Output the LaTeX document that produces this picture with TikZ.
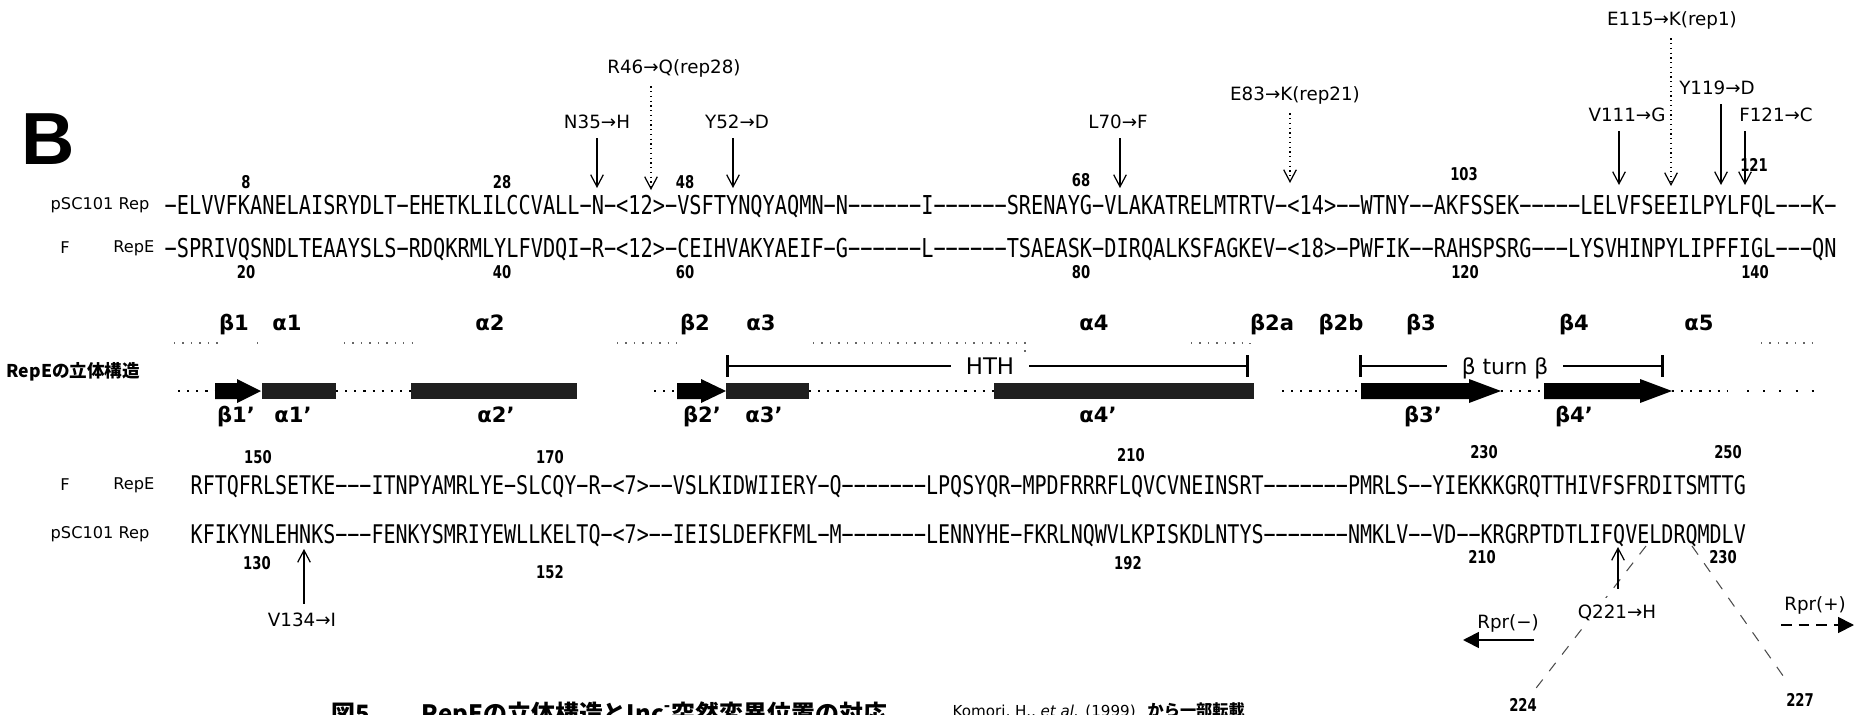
\documentclass[tikz,border=0pt]{standalone}
\usepackage{fontspec}
\setmainfont{DejaVu Sans}
\newfontfamily\seqfont[FakeStretch=0.779]{DejaVu Sans Mono}
\newfontfamily\numfont[FakeStretch=0.75]{DejaVu Sans}
\newfontfamily\headfont{Liberation Sans}
\newfontfamily\jpfont{Noto Sans CJK JP}
\usetikzlibrary{arrows.meta}

\begin{document}
\begin{tikzpicture}[
x=0.01cm,y=-0.01cm,
every node/.style={inner sep=0pt},
seqrow/.style={anchor=base west,font=\fontsize{7.4}{8}\seqfont},
seqrowb/.style={anchor=base west,font=\fontsize{7.31}{8}\seqfont},
tag/.style={font=\fontsize{4.6}{5}\selectfont},
resnum/.style={font=\fontsize{5}{6}\numfont\bfseries},
mut/.style={font=\fontsize{5.2}{6}\selectfont},
sse/.style={anchor=base,font=\fontsize{6}{7}\bfseries},
hit/.style={-{Straight Barb[length=3.4pt,width=3.6pt]},line width=0.35pt,shorten <=2.5pt},
hitdot/.style={hit,densely dotted},
coil/.style={dotted,line width=0.6pt},
faint/.style={dotted,black!60,line width=0.4pt},
helix/.style={fill=black!88},
span/.style={{Bar[width=6pt]}-,line width=0.8pt},
guide/.style={dashed,black!70,line width=0.3pt,shorten >=3pt}
]
\useasboundingbox[fill=white] (0,0) rectangle (1854,715);

\node[font=\fontsize{21}{24}\headfont\bfseries] (B) at (48,139) {B};

\node[tag,anchor=east] (l1) at (150,205) {pSC101 Rep};
\node[tag] (l2a) at (65,248) {F};
\node[tag,anchor=east] (l2b) at (155,248) {RepE};
\node[tag] (l3a) at (65,485) {F};
\node[tag,anchor=east] (l3b) at (155,485) {RepE};
\node[tag,anchor=east] (l4) at (150,534) {pSC101 Rep};

\node[seqrow] (s1) at (164,214.5) {−ELVVFKANELAISRYDLT−EHETKLILCCVALL−N−<12>−VSFTYNQYAQMN−N−−−−−−I−−−−−−SRENAYG−VLAKATRELMTRTV−<14>−−WTNY−−AKFSSEK−−−−−LELVFSEEILPYLFQL−−−K−};
\node[seqrow] (s2) at (164,257.5) {−SPRIVQSNDLTEAAYSLS−RDQKRMLYLFVDQI−R−<12>−CEIHVAKYAEIF−G−−−−−−L−−−−−−TSAEASK−DIRQALKSFAGKEV−<18>−PWFIK−−RAHSPSRG−−−LYSVHINPYLIPFFIGL−−−QN};
\node[seqrowb] (s3) at (190,494.5) {RFTQFRLSETKE−−−ITNPYAMRLYE−SLCQY−R−<7>−−VSLKIDWIIERY−Q−−−−−−−LPQSYQR−MPDFRRRFLQVCVNEINSRT−−−−−−−PMRLS−−YIEKKKGRQTTHIVFSFRDITSMTTG};
\node[seqrowb] (s4) at (190,543.5) {KFIKYNLEHNKS−−−FENKYSMRIYEWLLKELTQ−<7>−−IEISLDEFKFML−M−−−−−−−LENNYHE−FKRLNQWVLKPISKDLNTYS−−−−−−−NMKLV−−VD−−KRGRPTDTLIFQVELDRQMDLV};

\node[resnum] (a8) at (246,182) {8};
\node[resnum] (a28) at (502,182) {28};
\node[resnum] (a48) at (685,182) {48};
\node[resnum] (a68) at (1081,180) {68};
\node[resnum] (a103) at (1464,174) {103};
\node[resnum] (a121) at (1754,165) {121};
\node[resnum] (b20) at (246,272) {20};
\node[resnum] (b40) at (502,272) {40};
\node[resnum] (b60) at (685,272) {60};
\node[resnum] (b80) at (1081,272) {80};
\node[resnum] (b120) at (1465,272) {120};
\node[resnum] (b140) at (1755,272) {140};
\node[resnum] (c150) at (258,457) {150};
\node[resnum] (c170) at (550,457) {170};
\node[resnum] (c210) at (1131,455) {210};
\node[resnum] (c230) at (1484,452) {230};
\node[resnum] (c250) at (1728,452) {250};
\node[resnum] (d130) at (257,563) {130};
\node[resnum] (d152) at (550,572) {152};
\node[resnum] (d192) at (1128,563) {192};
\node[resnum] (d210) at (1482,557) {210};
\node[resnum] (d230) at (1723,557) {230};

\node[mut] (m46) at (674,68) {R46→Q(rep28)};
\coordinate (r46) at (651,190);
\draw[hitdot] (m46.south -| r46) -- (r46);
\node[mut] (m35) at (597,122) {N35→H};
\coordinate (r35) at (597,188);
\draw[hit] (m35.south -| r35) -- (r35);
\node[mut] (m52) at (737,122) {Y52→D};
\coordinate (r52) at (733,188);
\draw[hit] (m52.south -| r52) -- (r52);
\node[mut] (m70) at (1118,122) {L70→F};
\coordinate (r70) at (1120,188);
\draw[hit] (m70.south -| r70) -- (r70);
\node[mut] (m83) at (1295,95) {E83→K(rep21)};
\coordinate (r83) at (1290,183);
\draw[hitdot] (m83.south -| r83) -- (r83);
\node[mut] (m115) at (1672,20) {E115→K(rep1)};
\coordinate (r115) at (1671,186);
\draw[hitdot] (m115.south -| r115) -- (r115);
\node[mut] (m111) at (1627,115) {V111→G};
\coordinate (r111) at (1619,185);
\draw[hit] (m111.south -| r111) -- (r111);
\node[mut] (m119) at (1717,88) {Y119→D};
\coordinate (r119) at (1721,185);
\draw[hit] (m119.south -| r119) -- (r119);
\node[mut] (m121) at (1776,115) {F121→C};
\coordinate (r121) at (1745,185);
\draw[hit] (m121.south -| r121) -- (r121);

\node[mut] (m134) at (302,620) {V134→I};
\coordinate (r134) at (304,549);
\draw[hit] (m134.north -| r134) -- (r134);

\node[resnum] (e224) at (1523,705) {224};
\node[resnum] (e227) at (1800,700) {227};
\coordinate (k1) at (1646,546);
\coordinate (k2) at (1692,546);
\draw[guide] (k1) -- (e224);
\draw[guide] (k2) -- (e227);
\node[mut,fill=white,inner sep=2pt] (m221) at (1617,613) {Q221→H};
\coordinate (r221) at (1618,547);
\draw[hit] (m221.north -| r221) -- (r221);

\node[mut] (rm) at (1508,623) {Rpr(−)};
\coordinate (rm1) at (1534,640);
\coordinate (rm2) at (1463,640);
\draw[line width=0.5pt,-{Triangle[length=4.5pt,width=4.5pt]}] (rm1) -- (rm2);
\node[mut] (rp) at (1815,605) {Rpr(+)};
\coordinate (rp1) at (1781,625);
\coordinate (rp2) at (1854,625);
\draw[densely dashed,line width=0.5pt,-{Triangle[length=4.5pt,width=4.5pt]}] (rp1) -- (rp2);

\node[sse] (t1) at (234,330) {β1};
\node[sse] (t2) at (287,330) {α1};
\node[sse] (t3) at (490,330) {α2};
\node[sse] (t4) at (695,330) {β2};
\node[sse] (t5) at (761,330) {α3};
\node[sse] (t6) at (1094,330) {α4};
\node[sse] (t7) at (1272,330) {β2a};
\node[sse] (t8) at (1341,330) {β2b};
\node[sse] (t9) at (1421,330) {β3};
\node[sse] (t10) at (1574,330) {β4};
\node[sse] (t11) at (1699,330) {α5};

\draw[faint] (174,343) -- (221,343);
\draw[faint] (257,343) -- (263,343);
\draw[faint] (344,343) -- (415,343);
\draw[faint] (617,343) -- (679,343);
\draw[faint] (813,343) -- (1025,343) -- (1025,352);
\draw[faint] (1191,343) -- (1250,343) -- (1250,350);
\draw[faint] (1761,343) -- (1815,343);

\coordinate (h1) at (726,366);
\coordinate (h2) at (1249,366);
\node[font=\fontsize{6.5}{7}\selectfont,inner sep=4pt] (hth) at (990,366) {HTH};
\draw[span] (h1) -- (h1 -| hth.west);
\draw[span] (h2) -- (h2 -| hth.east);
\coordinate (h3) at (1359,366);
\coordinate (h4) at (1664,366);
\node[font=\fontsize{6.2}{7}\selectfont,inner sep=4pt,anchor=base] (bt) at (1505,374) {β turn β};
\draw[span] (h3) -- (h3 -| bt.west);
\draw[span] (h4) -- (h4 -| bt.east);

\node[font=\fontsize{5}{6}\jpfont\bfseries,anchor=west] (st) at (6,372) {RepEの立体構造};

\draw[coil] (178,391) -- (215,391);
\fill (215,383) -- (237,383) -- (237,379) -- (261,391) -- (237,403) -- (237,399) -- (215,399) -- cycle;
\fill[helix] (262,383) rectangle (336,399);
\draw[coil] (336,391) -- (411,391);
\fill[helix] (411,383) rectangle (577,399);
\draw[coil] (654,391) -- (677,391);
\fill (677,383) -- (701,383) -- (701,379) -- (726,391) -- (701,403) -- (701,399) -- (677,399) -- cycle;
\fill[helix] (726,383) rectangle (809,399);
\draw[coil] (809,391) -- (994,391);
\fill[helix] (994,383) rectangle (1254,399);
\draw[coil] (1282,391) -- (1361,391);
\fill (1361,383) -- (1469,383) -- (1469,379) -- (1501,391) -- (1469,403) -- (1469,399) -- (1361,399) -- cycle;
\draw[coil] (1501,391) -- (1544,391);
\fill (1544,383) -- (1640,383) -- (1640,379) -- (1672,391) -- (1640,403) -- (1640,399) -- (1544,399) -- cycle;
\draw[coil] (1672,391) -- (1727,391);
\draw[coil,loosely dotted] (1747,391) -- (1815,391);

\node[sse] (u1) at (236,422) {β1'};
\node[sse] (u2) at (293,422) {α1'};
\node[sse] (u3) at (496,422) {α2'};
\node[sse] (u4) at (702,422) {β2'};
\node[sse] (u5) at (764,422) {α3'};
\node[sse] (u6) at (1098,422) {α4'};
\node[sse] (u7) at (1423,422) {β3'};
\node[sse] (u8) at (1574,422) {β4'};

\node[font=\fontsize{6.8}{8}\jpfont\bfseries,anchor=base west] (cap1) at (331,722) {図5};
\node[font=\fontsize{6.8}{8}\jpfont\bfseries,anchor=base west] (cap2) at (421,722) {RepEの立体構造とInc\textsuperscript{-}突然変異位置の対応};
\node[font=\fontsize{4.3}{5}\selectfont,anchor=base west] (cap3) at (952,716) {Komori, H., \textit{et al.} (1999)};
\node[font=\fontsize{4.6}{5}\jpfont\bfseries,anchor=base west] (cap4) at (1147,716) {から一部転載};
\end{tikzpicture}
\end{document}
